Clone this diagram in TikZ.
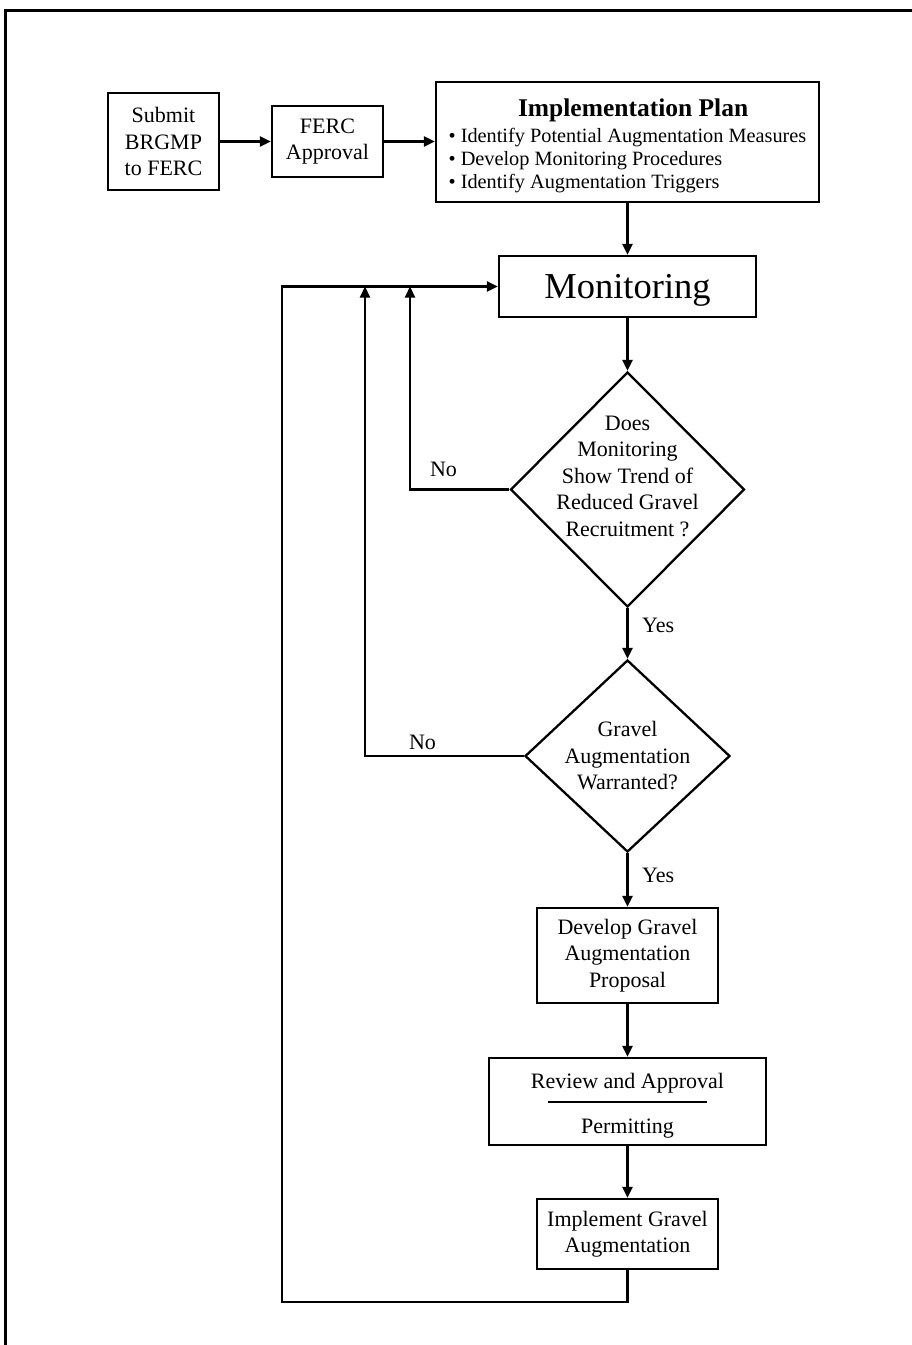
\documentclass[tikz,border=0pt]{standalone}
\usepackage{fontspec}
\setmainfont{Liberation Serif}
\usetikzlibrary{arrows.meta,shapes.geometric}
\begin{document}
\begin{tikzpicture}[x=1pt,y=-1pt,
  every node/.style={font=\fontsize{22}{26.5}\selectfont},
  box/.style={draw, line width=2.3pt, rectangle, inner sep=0pt, align=center},
  decision/.style={draw, line width=2.3pt, diamond, inner sep=0pt},
  arr/.style={line width=2.2pt, -{Triangle[length=11pt,width=10pt]}},
  lbl/.style={anchor=base, inner sep=0pt}]
\useasboundingbox (0,0) rectangle (912,1345);
\draw[line width=2.5pt] (5.5,1345) -- (5.5,10.5) -- (912,10.5);

\node[box, minimum width=111pt, minimum height=97pt] (sub) at (163.5,141.5) {Submit\\BRGMP\\to FERC};
\node[box, minimum width=111pt, minimum height=71pt] (ferc) at (327.5,141.5) {FERC\\Approval};
\node[box, minimum width=383pt, minimum height=120pt,
      label={[align=left, yshift=-4pt, font=\fontsize{20.3}{23}\selectfont]center:%
   \makebox[357pt][c]{\hspace{12pt}\fontsize{25.5}{26}\selectfont\bfseries Implementation Plan}\\[3pt]
   \textbullet\hspace{5pt}Identify Potential Augmentation Measures\\
   \textbullet\hspace{5pt}Develop Monitoring Procedures\\
   \textbullet\hspace{5pt}Identify Augmentation Triggers}] (plan) at (627.5,142) {};
\node[box, minimum width=257pt, minimum height=61pt, text depth=0pt,
      font=\fontsize{36.5}{40}\selectfont] (mon) at (627.5,286.5) {Monitoring};
\node[decision, minimum width=234pt, minimum height=235pt,
      label={[align=center, yshift=13.5pt]center:Does\\Monitoring\\Show Trend of\\Reduced Gravel\\Recruitment ?}] (q1) at (627.5,489.5) {};
\node[decision, minimum width=205pt, minimum height=192pt,
      label={[align=center]center:Gravel\\Augmentation\\Warranted?}] (q2) at (627.5,756) {};
\node[box, minimum width=181pt, minimum height=95pt] (dev) at (627.5,955.5) {Develop Gravel\\Augmentation\\Proposal};
\node[box, minimum width=277pt, minimum height=87pt,
      label={[align=center, yshift=-4pt]center:Review and Approval\\[18pt]Permitting}] (rev) at (627.5,1101.5) {};
\draw[line width=1.3pt] ([xshift=-79.5pt,yshift=-0.5pt]rev.center) -- ([xshift=79.5pt,yshift=-0.5pt]rev.center);
\node[box, minimum width=181pt, minimum height=70pt] (imp) at (627.5,1234) {Implement Gravel\\Augmentation};

\coordinate (ll) at (282,1302);
\coordinate (j1) at (410,286.5);
\coordinate (j2) at (365,286.5);

\draw[arr] (sub.east) -- (ferc.west);
\draw[arr] (ferc.east) -- (plan.west |- ferc.east);
\draw[arr] (plan.south) -- (mon.north);
\draw[arr] (mon.south) -- (q1.north);
\draw[arr] (q1.south) -- (q2.north);
\draw[arr] (q2.south) -- (dev.north);
\draw[arr] (dev.south) -- (rev.north);
\draw[arr] (rev.south) -- (imp.north);
\draw[arr] (imp.south) |- (ll) |- (mon.west);
\draw[arr] (q1.west) -| (j1);
\draw[arr] (q2.west) -| (j2);

\node[lbl] (no1) at (443.5,476) {No};
\node[lbl] (no2) at (422.5,749) {No};
\node[lbl, anchor=base west] (yes1) at (642,632) {Yes};
\node[lbl, anchor=base west] (yes2) at (642,882) {Yes};
\end{tikzpicture}
\end{document}
